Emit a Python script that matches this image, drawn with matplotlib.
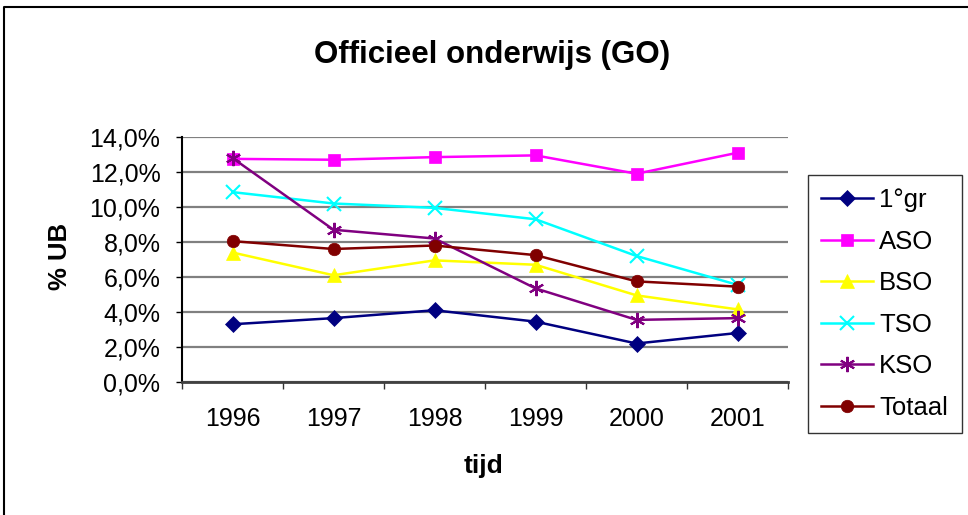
import matplotlib
matplotlib.use("Agg")
import matplotlib.pyplot as plt
from matplotlib.lines import Line2D
from matplotlib.ticker import FuncFormatter, MultipleLocator, FixedLocator

plt.rcParams['font.family'] = ['Liberation Sans', 'DejaVu Sans']

years = ['1996', '1997', '1998', '1999', '2000', '2001']
gr1 = [3.3, 3.65, 4.1, 3.45, 2.2, 2.8]
aso = [12.75, 12.7, 12.85, 12.95, 11.9, 13.1]
bso = [7.4, 6.1, 6.95, 6.7, 4.95, 4.15]
tso = [10.85, 10.2, 9.95, 9.3, 7.2, 5.55]
kso = [12.8, 8.7, 8.2, 5.35, 3.55, 3.65]
totaal = [8.05, 7.6, 7.8, 7.25, 5.75, 5.45]

series = [
    ('1°gr', gr1, '#000080', 'D', 8),
    ('ASO', aso, '#FF00FF', 's', 9),
    ('BSO', bso, '#FFFF00', '^', 10),
    ('TSO', tso, '#00FFFF', 'x', 9.5),
    ('KSO', kso, '#800080', (6, 2, 0), 11),
    ('Totaal', totaal, '#800000', 'o', 9),
]

fig = plt.figure(figsize=(9.68, 5.15), dpi=100)
ax = fig.add_axes([182/968, 1-382/515, (788-182)/968, (382-137)/515])

x = list(range(len(years)))
for name, vals, col, mk, ms in series:
    mew = 1.5 if (mk == 'x' or isinstance(mk, tuple)) else 0.5
    ax.plot(x, vals, color=col, marker=mk, markersize=ms, linewidth=1.8,
            markerfacecolor=col, markeredgecolor=col, markeredgewidth=mew, label=name)

ax.set_xlim(-0.5, 5.5)
ax.set_ylim(0, 14)
ax.yaxis.set_major_locator(MultipleLocator(2))
ax.yaxis.set_major_formatter(FuncFormatter(lambda v, p: f"{v:.1f}%".replace('.', ',')))
ax.set_xticks(x)
ax.set_xticklabels(years)
ax.xaxis.set_minor_locator(FixedLocator([i + 0.5 for i in range(-1, 6)]))
ax.tick_params(axis='x', which='major', length=0, pad=18, labelsize=18)
ax.tick_params(axis='x', which='minor', length=5, width=1, color='#333333')
ax.tick_params(axis='y', which='major', length=4.5, width=1, labelsize=18, pad=11)

ax.grid(axis='y', color='#808080', linewidth=1.6)
ax.set_axisbelow(True)
for s in ['top', 'right']:
    ax.spines[s].set_visible(False)
ax.spines['left'].set_color('black')
ax.spines['left'].set_linewidth(1.5)
ax.spines['bottom'].set_color('#404040')
ax.spines['bottom'].set_linewidth(2)

fig.text(492/968, 1-55/515, 'Officieel onderwijs (GO)', fontsize=22.5, fontweight='bold',
         ha='center', va='center')
fig.text(60/968, 1-256/515, '% UB', rotation=90, fontsize=18.5, fontweight='bold',
         ha='center', va='center')
fig.text(483/968, 1-466/515, 'tijd', fontsize=19, fontweight='bold', ha='center', va='center')

leg = ax.legend(loc='upper left', bbox_to_anchor=(808/968, 1-428/515, (962-808)/968, (428-175)/515),
                bbox_transform=fig.transFigure, mode='expand', fontsize=18.5, frameon=True,
                fancybox=False, edgecolor='black', borderpad=0.52, labelspacing=0.68,
                handlelength=2.0, handletextpad=0.25, borderaxespad=0)
leg.get_frame().set_linewidth(1)

fig.add_artist(Line2D([4/968, 4/968, 1], [0, 1-7/515, 1-7/515], transform=fig.transFigure,
                      color='black', linewidth=1.5))

fig.savefig('out.png', dpi=100)
